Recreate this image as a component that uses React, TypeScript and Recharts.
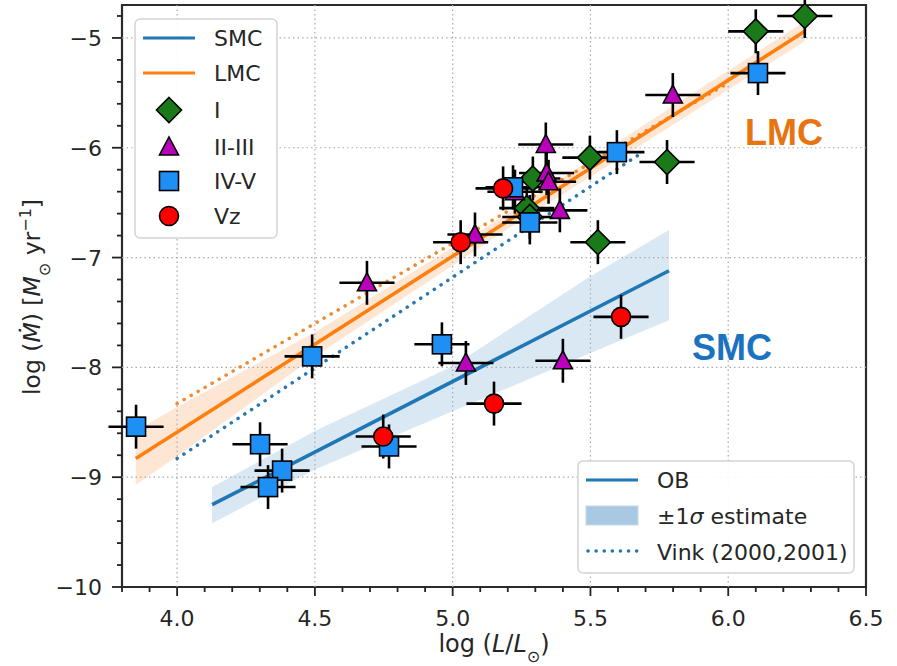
import React from "react";
import {
  ComposedChart,
  Area,
  Line,
  Scatter,
  ErrorBar,
  XAxis,
  YAxis,
  ReferenceLine,
  ReferenceArea,
} from "recharts";

const W = 897;
const H = 666;
const FONT = "'DejaVu Sans', sans-serif";
const TEXT = "#262626";

const BLUE = "#1f77b4";
const ORANGE = "#ff7f0e";

// axes
const xDomain = [3.8, 6.5];
const yDomain = [-10, -4.7];
const xTicks = [
  3.8, 3.9, 4.0, 4.1, 4.2, 4.3, 4.4, 4.5, 4.6, 4.7, 4.8, 4.9, 5.0, 5.1, 5.2,
  5.3, 5.4, 5.5, 5.6, 5.7, 5.8, 5.9, 6.0, 6.1, 6.2, 6.3, 6.4, 6.5,
];
const xMajor = [4.0, 4.5, 5.0, 5.5, 6.0, 6.5];
const yTicks = [
  -10, -9.8, -9.6, -9.4, -9.2, -9, -8.8, -8.6, -8.4, -8.2, -8, -7.8, -7.6,
  -7.4, -7.2, -7, -6.8, -6.6, -6.4, -6.2, -6, -5.8, -5.6, -5.4, -5.2, -5, -4.8,
];
const yMajor = [-10, -9, -8, -7, -6, -5];

// stars: [log L, log Mdot]
const classI = [
  [5.291, -6.28], [5.269, -6.55], [5.28, -6.63], [5.498, -6.09],
  [5.778, -6.13], [5.527, -6.86], [6.1, -4.94], [6.278, -4.8],
];
const classII_III = [
  [4.689, -7.23], [5.081, -6.79], [5.226, -6.4], [5.338, -5.97],
  [5.341, -6.23], [5.348, -6.31], [5.389, -6.57], [5.799, -5.52],
  [5.048, -7.96], [5.4, -7.94],
];
const classIV_V = [
  [3.851, -8.54], [4.49, -7.9], [4.301, -8.7], [4.381, -8.94],
  [4.33, -9.09], [4.769, -8.72], [4.961, -7.79], [5.219, -6.36],
  [5.28, -6.68], [5.596, -6.04], [6.108, -5.32],
];
const classVz = [
  [4.748, -8.63], [5.029, -6.86], [5.183, -6.37], [5.15, -8.33], [5.611, -7.54],
];
const xErr = 0.1;
const yErr = 0.2;

// fits
const lmcFit = [[3.85, -8.83], [6.278, -4.94]];
const smcFit = [[4.127, -9.25], [5.785, -7.12]];
const lmcVink = [[4.0, -8.33], [6.0, -5.41]];
const smcVink = [[4.0, -8.83], [5.69, -6.04]];
// [x, low, high]
const lmcBand = [
  [3.85, -9.07, -8.58], [4.0, -8.81, -8.36], [4.5, -7.9, -7.68],
  [5.2, -6.74, -6.6], [5.8, -5.79, -5.62], [6.278, -5.03, -4.85],
];
const smcBand = [
  [4.127, -9.42, -9.09], [4.5, -8.93, -8.58], [5.0, -8.4, -7.99],
  [5.5, -7.87, -7.17], [5.785, -7.57, -6.75],
];

const toPoints = (pts: number[][]) =>
  pts.map(([x, y]) => ({ x, y, ex: xErr, ey: yErr }));
const toLine = (pts: number[][]) => pts.map(([x, y]) => ({ x, y }));
const toBand = (pts: number[][]) =>
  pts.map(([x, lo, hi]) => ({ x, band: [lo, hi] }));

type Kind = "I" | "II-III" | "IV-V" | "Vz";

const marker = (kind: Kind, cx: number, cy: number) => {
  const common = { stroke: "#000", strokeWidth: 1.6 };
  if (kind === "I") {
    const r = 12.5;
    return (
      <polygon
        points={`${cx},${cy - r} ${cx + r},${cy} ${cx},${cy + r} ${cx - r},${cy}`}
        fill="#1a7a1a"
        {...common}
      />
    );
  }
  if (kind === "II-III") {
    return (
      <polygon
        points={`${cx},${cy - 10} ${cx + 9.5},${cy + 8} ${cx - 9.5},${cy + 8}`}
        fill="#bb00bb"
        {...common}
      />
    );
  }
  if (kind === "IV-V") {
    return (
      <rect x={cx - 9.5} y={cy - 9.5} width={19} height={19} fill="#1e8ff5" {...common} />
    );
  }
  return <circle cx={cx} cy={cy} r={9.5} fill="#ff0000" {...common} />;
};

const XTick = ({ x, y, payload }: any) => {
  const major = xMajor.includes(payload.value);
  return (
    <g>
      <line x1={x} x2={x} y1={y} y2={y + (major ? 9 : 5)} stroke="#222" strokeWidth={1.8} />
      {major && (
        <text x={x} y={y + 39} textAnchor="middle" fontSize={22} fontFamily={FONT} fill={TEXT}>
          {payload.value.toFixed(1)}
        </text>
      )}
    </g>
  );
};

const YTick = ({ x, y, payload }: any) => {
  const major = yMajor.includes(payload.value);
  const v = payload.value;
  return (
    <g>
      <line x1={x} x2={x - (major ? 10 : 5)} y1={y} y2={y} stroke="#222" strokeWidth={1.8} />
      {major && (
        <text x={x - 20} y={y + 8} textAnchor="end" fontSize={22} fontFamily={FONT} fill={TEXT}>
          {v < 0 ? "\u2212" + Math.abs(v) : String(v)}
        </text>
      )}
    </g>
  );
};

const series: { kind: Kind; pts: number[][] }[] = [
  { kind: "I", pts: classI },
  { kind: "II-III", pts: classII_III },
  { kind: "IV-V", pts: classIV_V },
  { kind: "Vz", pts: classVz },
];

const Overlay = () => (
  <svg
    width={W}
    height={H}
    style={{ position: "absolute", left: 0, top: 0, pointerEvents: "none" }}
    fontFamily={FONT}
  >
    {/* axis labels */}
    <text x={494} y={652} textAnchor="middle" fontSize={24} fill={TEXT}>
      log (<tspan fontStyle="italic">L</tspan>/<tspan fontStyle="italic">L</tspan>
      <tspan baselineShift="sub" fontSize={16}>⊙</tspan>)
    </text>
    <text
      x={40}
      y={297}
      textAnchor="middle"
      fontSize={23.5}
      fill={TEXT}
      transform="rotate(-90 40 297)"
    >
      log (<tspan fontStyle="italic">Ṁ</tspan>) [<tspan fontStyle="italic">M</tspan>
      <tspan baselineShift="sub" fontSize={16}>⊙</tspan> yr
      <tspan baselineShift="super" fontSize={16}>−1</tspan>]
    </text>

    {/* annotations */}
    <text x={745} y={145} fontSize={36} fontWeight="bold" fontFamily="'Liberation Sans', Arial, sans-serif" fill="#e8730f">
      LMC
    </text>
    <text x={692} y={360} fontSize={36} fontWeight="bold" fontFamily="'Liberation Sans', Arial, sans-serif" fill="#1a72c0">
      SMC
    </text>

    {/* legend: galaxies and classes */}
    <rect x={135} y={19} width={142} height={219} rx={5} fill="#fff" fillOpacity={0.9} stroke="#d4d4d4" strokeWidth={1.5} />
    <line x1={143} x2={195} y1={38} y2={38} stroke={BLUE} strokeWidth={3} />
    <text x={214} y={46} fontSize={22} fill={TEXT}>SMC</text>
    <line x1={143} x2={195} y1={73} y2={73} stroke={ORANGE} strokeWidth={3} />
    <text x={214} y={81} fontSize={22} fill={TEXT}>LMC</text>
    {series.map((s, i) => {
      const cy = [110, 147, 181, 216][i];
      return (
        <g key={s.kind}>
          {marker(s.kind, 169, cy)}
          <text x={214} y={cy + 8} fontSize={22} fill={TEXT}>{s.kind}</text>
        </g>
      );
    })}

    {/* legend: fit */}
    <rect x={578} y={461} width={276} height={112} rx={5} fill="#fff" fillOpacity={0.9} stroke="#d4d4d4" strokeWidth={1.5} />
    <line x1={586} x2={638} y1={480} y2={480} stroke={BLUE} strokeWidth={3} />
    <text x={657} y={488} fontSize={22} fill={TEXT}>OB</text>
    <rect x={586} y={506} width={52} height={19} fill="#a9c9e3" stroke="#c3d9ec" strokeWidth={1} />
    <text x={657} y={524} fontSize={22} fill={TEXT}>
      ±1<tspan fontStyle="italic">σ</tspan> estimate
    </text>
    <line x1={588} x2={638} y1={551} y2={551} stroke={BLUE} strokeWidth={3.5} strokeDasharray="0.1 8" strokeLinecap="round" />
    <text x={657} y={560} fontSize={22} fill={TEXT}>Vink (2000,2001)</text>
  </svg>
);

export default function App() {
  return (
    <div style={{ position: "absolute", left: 0, top: 0, width: W, height: H, background: "#fff" }}>
      <ComposedChart width={W} height={H} margin={{ top: 5, right: 31, bottom: 0, left: 0 }}>
        <XAxis
          type="number"
          dataKey="x"
          domain={xDomain}
          ticks={xTicks}
          interval={0}
          allowDataOverflow
          height={79}
          tickSize={0}
          tickMargin={0}
          tickLine={false}
          axisLine={false}
          tick={<XTick />}
        />
        <YAxis
          type="number"
          domain={yDomain}
          ticks={yTicks}
          interval={0}
          allowDataOverflow
          width={122}
          tickSize={0}
          tickMargin={0}
          tickLine={false}
          axisLine={false}
          tick={<YTick />}
        />

        {xMajor.filter((v) => v < xDomain[1]).map((v) => (
          <ReferenceLine key={"gx" + v} x={v} stroke="#aaa" strokeWidth={1.2} strokeDasharray="1.5 3" />
        ))}
        {yMajor.filter((v) => v > yDomain[0]).map((v) => (
          <ReferenceLine key={"gy" + v} y={v} stroke="#aaa" strokeWidth={1.2} strokeDasharray="1.5 3" />
        ))}

        <Area
          data={toBand(lmcBand)}
          dataKey="band"
          type="linear"
          stroke="none"
          fill="#fde3cc"
          fillOpacity={0.85}
          isAnimationActive={false}
        />
        <Area
          data={toBand(smcBand)}
          dataKey="band"
          type="linear"
          stroke="none"
          fill="#d5e5f2"
          fillOpacity={0.9}
          isAnimationActive={false}
        />
        <Line data={toLine(lmcVink)} dataKey="y" type="linear" stroke="#f08a30" strokeWidth={3.5} strokeDasharray="0.1 8" strokeLinecap="round" dot={false} isAnimationActive={false} />
        <Line data={toLine(smcVink)} dataKey="y" type="linear" stroke="#2878b0" strokeWidth={3.5} strokeDasharray="0.1 8" strokeLinecap="round" dot={false} isAnimationActive={false} />
        <Line data={toLine(lmcFit)} dataKey="y" type="linear" stroke={ORANGE} strokeWidth={3.6} dot={false} isAnimationActive={false} />
        <Line data={toLine(smcFit)} dataKey="y" type="linear" stroke={BLUE} strokeWidth={3.6} dot={false} isAnimationActive={false} />

        {/* error bars first, markers drawn afterwards on top */}
        {series.map((s) => (
          <Scatter
            key={"err" + s.kind}
            data={toPoints(s.pts)}
            dataKey="y"
            shape={() => <g />}
            isAnimationActive={false}
          >
            <ErrorBar dataKey="ex" direction="x" width={0} stroke="#000" strokeWidth={2.6} zIndex={550} />
            <ErrorBar dataKey="ey" direction="y" width={0} stroke="#000" strokeWidth={2.6} zIndex={550} />
          </Scatter>
        ))}
        {series.map((s) => (
          <Scatter
            key={s.kind}
            data={toPoints(s.pts)}
            dataKey="y"
            shape={(p: any) => marker(s.kind, p.cx, p.cy)}
            isAnimationActive={false}
          />
        ))}

        <ReferenceArea
          x1={xDomain[0]}
          x2={xDomain[1]}
          y1={yDomain[0]}
          y2={yDomain[1]}
          fill="none"
          stroke="#2b2b2b"
          strokeWidth={2.2}
        />
      </ComposedChart>
      <Overlay />
    </div>
  );
}
